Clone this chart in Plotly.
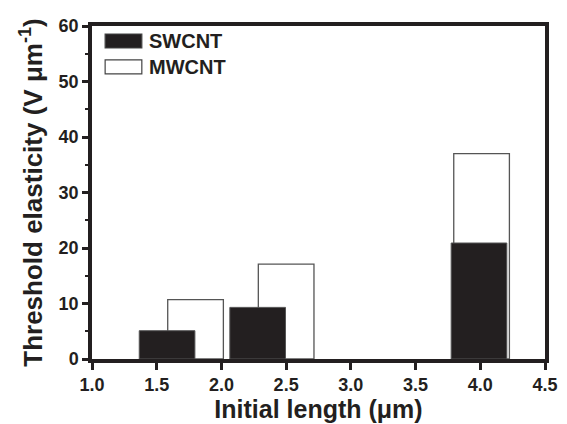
import plotly.graph_objects as go

# Data
sw_x = [1.58, 2.28, 3.99]
sw_y = [5.1, 9.3, 20.9]
mw_x = [1.80, 2.50, 4.01]
mw_y = [10.7, 17.1, 37.0]
bar_width = 0.43
series_names = ["SWCNT", "MWCNT"]
x_ticks = [1.0, 1.5, 2.0, 2.5, 3.0, 3.5, 4.0, 4.5]
y_ticks = [0, 10, 20, 30, 40, 50, 60]
y_minor_ticks = [0, 5, 10, 15, 20, 25, 30, 35, 40, 45, 50, 55, 60]

INK = "#231f20"
FONT = "Liberation Sans, Arial, Helvetica, sans-serif"

fig = go.Figure()
fig.add_trace(go.Bar(x=mw_x, y=mw_y, width=bar_width, name=series_names[1],
                     marker=dict(color="white", line=dict(color="#555555", width=1.3)),
                     showlegend=False))
fig.add_trace(go.Bar(x=sw_x, y=sw_y, width=bar_width, name=series_names[0],
                     marker=dict(color=INK, line=dict(color="#555555", width=1.0)),
                     showlegend=False))
# invisible helper trace so the mirrored (top/right) tick axes are drawn
fig.add_trace(go.Scatter(x=mw_x, y=mw_y, xaxis="x2", yaxis="y2", mode="markers",
                         marker=dict(opacity=0), hoverinfo="skip", showlegend=False))

axis_font = dict(family=FONT, size=18, color=INK, weight="bold")
xtitle_font = dict(family=FONT, size=25, color=INK, weight="bold")
ytitle_font = dict(family=FONT, size=26, color=INK, weight="bold")

fig.update_layout(
    width=567, height=424,
    margin=dict(l=92, r=22, t=26, b=65, autoexpand=False),
    paper_bgcolor="white", plot_bgcolor="white",
    barmode="overlay",
    xaxis=dict(range=[1.0, 4.5], tickvals=x_ticks,
               ticktext=[f"{v:.1f}" for v in x_ticks],
               ticks="outside", ticklen=7, tickwidth=2.5, tickcolor=INK,
               showline=True, linewidth=3.5, linecolor=INK, mirror=True,
               showgrid=False, zeroline=False, tickfont=axis_font, automargin=False,
               title=dict(text="Initial length (μm)", font=xtitle_font, standoff=4)),
    xaxis2=dict(range=[1.0, 4.5], overlaying="x", anchor="y", side="top", tickvals=x_ticks,
                ticks="outside", ticklen=2, tickwidth=2, tickcolor=INK, showticklabels=False,
                showgrid=False, zeroline=False, showline=False, automargin=False),
    yaxis=dict(range=[0, 60], tickvals=y_ticks,
               ticks="outside", ticklen=6, tickwidth=2.5, tickcolor=INK,
               minor=dict(tickvals=y_minor_ticks, ticks="outside", ticklen=3, tickwidth=2, tickcolor=INK),
               showline=True, linewidth=3.5, linecolor=INK, mirror=True,
               showgrid=False, zeroline=False, tickfont=axis_font, automargin=False,
               title=dict(text="Threshold elasticity (V μm<sup>-1</sup>)", font=ytitle_font, standoff=10)),
    yaxis2=dict(range=[0, 60], overlaying="y", anchor="x", side="right", tickvals=y_minor_ticks,
                ticks="outside", ticklen=2, tickwidth=2, tickcolor=INK, showticklabels=False,
                showgrid=False, zeroline=False, showline=False, automargin=False),
)

# Custom legend (swatches + labels) in the top-left of the plot area
legend_rows = [(series_names[0], INK, 0.976, 0.934), (series_names[1], "white", 0.898, 0.856)]
for name, fill, y1, y0 in legend_rows:
    fig.add_shape(type="rect", xref="paper", yref="paper", x0=0.029, x1=0.11, y0=y0, y1=y1,
                  fillcolor=fill, line=dict(color="#444444", width=1.2))
    fig.add_annotation(xref="paper", yref="paper", x=0.122, y=(y0 + y1) / 2, text=name,
                       showarrow=False, xanchor="left", yanchor="middle",
                       font=dict(family=FONT, size=20, color=INK, weight="bold"))

fig.write_html("out.html", config={"displayModeBar": False},
               post_script="document.body.style.margin='0';document.body.style.padding='0';")
